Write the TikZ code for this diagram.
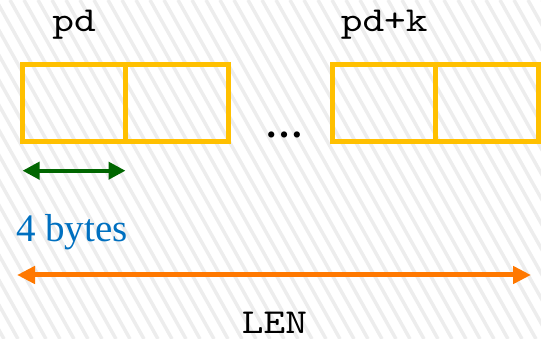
\documentclass[tikz,border=0pt]{standalone}
\usepackage{fontspec}
\setmainfont{Liberation Serif}
\newfontfamily\codefont{lmmono10-regular.otf}[FakeStretch=1.18]
\usetikzlibrary{arrows.meta, positioning, calc}
\definecolor{cellgold}{HTML}{FFC000}
\definecolor{sizegreen}{HTML}{006600}
\definecolor{sizeblue}{HTML}{0070C0}
\definecolor{lenorange}{HTML}{FF7800}
\definecolor{hatchgray}{HTML}{EDEDED}
\tikzset{
    cell/.style = {rectangle, draw=cellgold, line width=5pt, minimum width=103pt, minimum height=77.5pt, inner sep=0pt, outer sep=0pt},
    ptrlabel/.style = {font=\fontsize{35}{35}\codefont, inner sep=0pt},
    sizearrow/.style = {sizegreen, line width=4pt, {Triangle[length=17pt,width=17pt]}-{Triangle[length=17pt,width=17pt]}},
    lenarrow/.style = {lenorange, line width=5pt, {Triangle[length=18pt,width=17pt]}-{Triangle[length=18pt,width=17pt]}}
}

\begin{document}
\begin{tikzpicture}[x=1pt, y=-1pt, node distance=0pt]
\useasboundingbox (0,0) rectangle (541,339);
% hatched backdrop
\begin{scope}
\clip (0,0) rectangle (541,339);
\foreach \x in {-200,-186,...,550}
    \draw [hatchgray, line width=3.5pt] (\x,0) -- ++(190,339);
\end{scope}

\node (a1) [cell] at (74,103.25) {};
\node (b1) [cell, right=of a1] {};
\node (a2) [cell] at (384.2,103.25) {};
\node (b2) [cell, right=of a2] {};

\node (pd) [ptrlabel, above=25pt of a1] {pd};
\node (pdk) [ptrlabel, above=25pt of a2] {pd+k};
\node (gap) [font=\fontsize{38}{38}\selectfont\bfseries, anchor=base, inner sep=0pt] at ($(b1.south east)!0.5!(a2.south west)+(4,-4)$) {\ldots};

% one cell = 4 bytes
\coordinate (s1) at ([yshift=-28.7pt]a1.south west);
\coordinate (s2) at ([yshift=-28.7pt]a1.south east);
\draw [sizearrow] (s1) -- (s2);
\node (sz) [font=\fontsize{39}{39}\selectfont, text=sizeblue, anchor=base west, inner sep=0pt] at (16,241.7) {4 bytes};

% whole length
\coordinate (lenL) at (17,275);
\coordinate (lenR) at (531,275);
\draw [lenarrow] (lenL) -- (lenR);
\node (len) [ptrlabel, anchor=base] at (274.5,333) {LEN};
\end{tikzpicture}
\end{document}
